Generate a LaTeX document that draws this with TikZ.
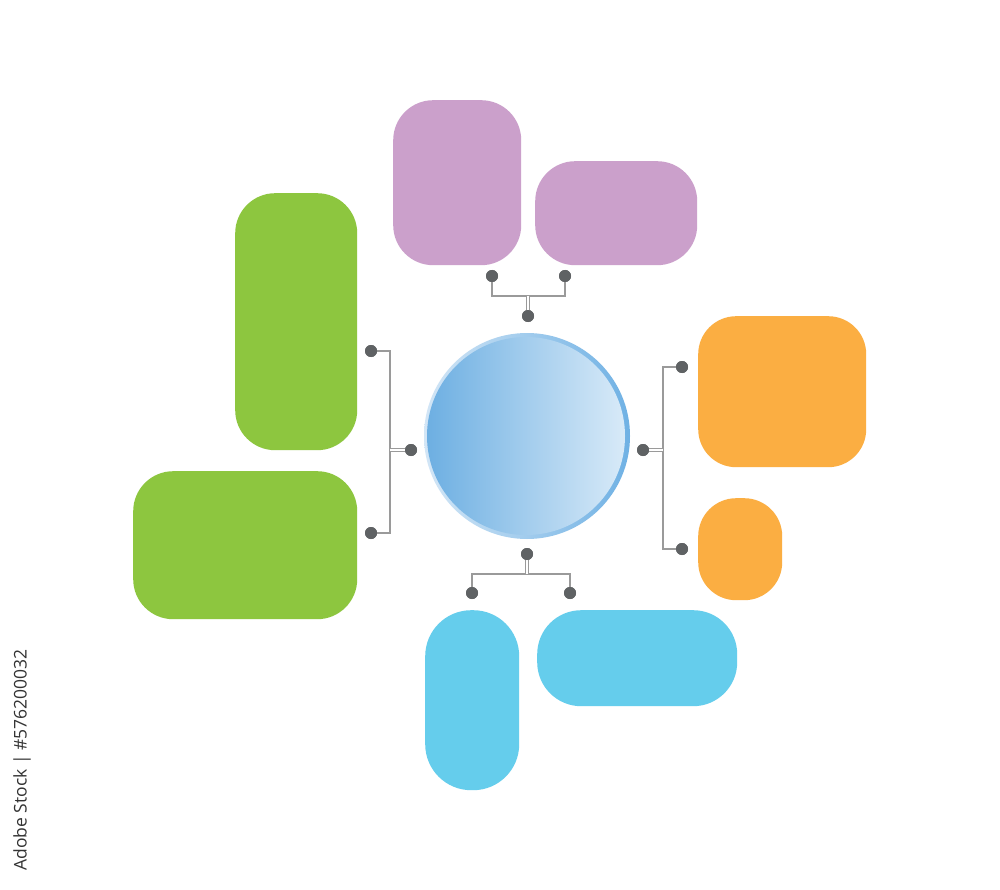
\documentclass[tikz,border=0pt]{standalone}
\usepackage{fontspec}
\newfontfamily\stockfont{Open Sans}
\definecolor{cgreen}{HTML}{8DC63F}
\definecolor{cpurple}{HTML}{CBA0CB}
\definecolor{corange}{HTML}{FBAE42}
\definecolor{ccyan}{HTML}{65CDEC}
\definecolor{cdot}{HTML}{5F6264}
\definecolor{cline}{HTML}{9A9A9A}
\definecolor{ringL}{HTML}{D3E6F6}
\definecolor{ringR}{HTML}{6FB1E4}
\definecolor{fillL}{HTML}{6DAFE2}
\definecolor{fillR}{HTML}{D8EAF8}
\definecolor{ctext}{HTML}{333333}
\tikzset{
  box/.style={rectangle, rounded corners=40pt, anchor=north west, inner sep=0pt, draw=none},
  dot/.style={circle, fill=cdot, minimum size=12pt, inner sep=0pt, draw=none},
  conn/.style={draw=cline, line width=1.1pt},
  stem/.style={draw=cline, line width=0.9pt, double=white, double distance=2pt},
}
\begin{document}
\begin{tikzpicture}[x=1pt,y=-1pt]
\useasboundingbox[fill=white] (0,0) rectangle (1000,890);
% boxes
\node[box, fill=cgreen, minimum width=122pt, minimum height=257pt] (g1) at (235,193) {};
\node[box, fill=cgreen, minimum width=224pt, minimum height=148pt] (g2) at (133,471) {};
\node[box, fill=cpurple, minimum width=128pt, minimum height=165pt] (p1) at (393,100) {};
\node[box, fill=cpurple, minimum width=162pt, minimum height=104pt] (p2) at (535,161) {};
\node[box, fill=corange, rounded corners=38pt, minimum width=168pt, minimum height=151pt] (o1) at (698,316) {};
\node[box, fill=corange, rounded corners=38pt, minimum width=84pt, minimum height=102pt] (o2) at (698,498) {};
\node[box, fill=ccyan, rounded corners=46pt, minimum width=94pt, minimum height=180pt] (c1) at (425,610) {};
\node[box, fill=ccyan, rounded corners=44pt, minimum width=200pt, minimum height=96pt] (c2) at (537,610) {};
% central circle
\node[circle, minimum size=206pt, inner sep=0pt, left color=ringL, right color=ringR] (ring) at (527,436) {};
\node[circle, minimum size=198pt, inner sep=0pt, left color=fillL, right color=fillR] (hub) at (526,436) {};
% dots
\node[dot] (t1) at (492,276) {};
\node[dot] (t2) at (565,276) {};
\node[dot] (t0) at (528,316) {};
\coordinate (tj) at (528,296);
\node[dot] (l1) at (371,351) {};
\node[dot] (l2) at (371,533) {};
\node[dot] (l0) at (411,450) {};
\coordinate (lj) at (390,450);
\node[dot] (r1) at (682,367) {};
\node[dot] (r2) at (682,549) {};
\node[dot] (r0) at (643,450) {};
\coordinate (rj) at (663,450);
\node[dot] (b1) at (472,593) {};
\node[dot] (b2) at (570,593) {};
\node[dot] (b0) at (527,554) {};
\coordinate (bj) at (527,574);
% connectors
\draw[conn] (t1) |- (tj) -| (t2);
\draw[stem] (tj) -- (t0);
\draw[conn] (l1) -| (lj) |- (l2);
\draw[stem] (lj) -- (l0);
\draw[conn] (r1) -| (rj) |- (r2);
\draw[stem] (rj) -- (r0);
\draw[conn] (b1) |- (bj) -| (b2);
\draw[stem] (bj) -- (b0);
% redraw dots on top
\foreach \d in {t1,t2,t0,l1,l2,l0,r1,r2,r0,b1,b2,b0}{\fill[cdot] (\d.center) circle (6pt);}
% stock id
\node[rotate=90, text=ctext, font=\stockfont\fontsize{17.5}{20}\selectfont, anchor=center, inner sep=0pt] (id) at (22,760) {Adobe Stock | \#576200032};
\end{tikzpicture}
\end{document}
